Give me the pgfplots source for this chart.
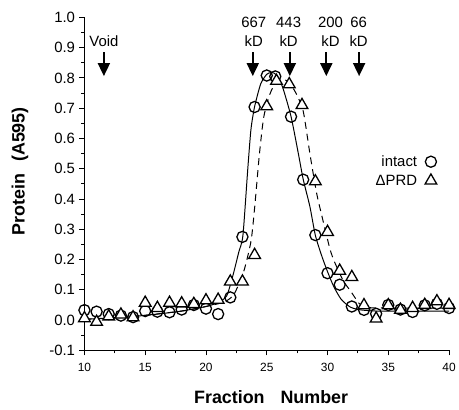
\documentclass[border=0pt]{standalone}
\usepackage{fontspec}
\setmainfont{Liberation Sans}
\usepackage{pgfplots}
\pgfplotsset{compat=1.18}
\usetikzlibrary{arrows.meta}

% measured points
\pgfplotstableread{
f y
10 0.033
11 0.028
12 0.02
13 0.015
14 0.01
15 0.03
16 0.028
17 0.026
18 0.035
19 0.05
20 0.038
21 0.02
22 0.075
23 0.275
24 0.704
25 0.808
25.7 0.805
27 0.672
28 0.464
29 0.281
30 0.155
31 0.117
32 0.045
33 0.034
34 0.021
35 0.05
36 0.035
37 0.027
38 0.049
39 0.054
40 0.04
}\intact

\pgfplotstableread{
f y
10 0.006
11 -0.006
12 0.012
13 0.018
14 0.009
15 0.057
16 0.04
17 0.057
18 0.055
19 0.053
20 0.065
21 0.067
22 0.127
23 0.127
24 0.215
25 0.706
25.8 0.79
26.85 0.779
27.9 0.71
29 0.458
30 0.291
31 0.163
32 0.142
33 0.049
34 0.005
35 0.049
36 0.034
37 0.04
38 0.05
39 0.062
40 0.05
}\prd

% fitted curves
\pgfplotstableread{
f y
10 0.003
12 0.006
14 0.012
16 0.02
18 0.03
20 0.045
21 0.058
21.7 0.08
22.2 0.145
22.7 0.225
23.04 0.28
23.44 0.5
23.7 0.63
24 0.705
24.5 0.78
25 0.812
25.4 0.818
25.8 0.81
26.3 0.77
27 0.672
27.6 0.55
28 0.465
28.55 0.375
29 0.28
29.5 0.215
30 0.16
30.5 0.112
31.1 0.07
31.8 0.045
32.5 0.035
34 0.03
37 0.03
40 0.03
}\intactfit

\pgfplotstableread{
f y
10 0.003
14 0.012
18 0.03
20 0.045
21.5 0.06
22.3 0.085
23.1 0.16
23.7 0.26
24 0.37
24.4 0.55
24.75 0.67
25.2 0.74
25.6 0.775
26.2 0.795
26.8 0.787
27.4 0.75
28 0.69
28.55 0.55
29.1 0.42
29.5 0.35
30.2 0.235
30.6 0.19
31.3 0.13
32 0.09
32.6 0.055
33.2 0.042
35 0.04
40 0.04
}\prdfit

\begin{document}
\begin{tikzpicture}
\begin{axis}[
  width=367pt, height=335.2pt, scale only axis,
  xmin=10, xmax=40, ymin=-0.1, ymax=1.0,
  axis lines*=left,
  clip=false,
  xtick={10,15,20,25,30,35,40},
  ytick={-0.1,0,0.1,0.2,0.3,0.4,0.5,0.6,0.7,0.8,0.9,1.0},
  minor x tick num=1, minor y tick num=1,
  tick align=outside,
  major tick length=5pt, minor tick length=3pt,
  tick style={black, line width=0.9pt},
  axis line style={line width=0.9pt},
  /pgf/number format/assume math mode=true,
  yticklabel style={/pgf/number format/fixed, /pgf/number format/fixed zerofill, /pgf/number format/precision=1},
  x tick label style={font=\fontsize{12}{12}\selectfont, yshift=-4pt},
  y tick label style={font=\fontsize{15}{15}\selectfont, xshift=-1pt},
  xlabel={Fraction\hspace{16pt}Number},
  ylabel={Protein\hspace{12pt}(A595)},
  label style={font=\fontsize{18}{18}\selectfont\bfseries},
  xlabel style={at={(axis description cs:0.512,-0.141)}, anchor=center},
  ylabel style={at={(axis description cs:-0.177,0.538)}, anchor=center},
  legend plot pos=right,
  legend style={draw=none, fill=none, font=\fontsize{15}{15}\selectfont,
    at={(axis description cs:0.975,0.5385)}, anchor=east, row sep=3pt, column sep=6pt},
  legend cell align=right,
]
\addplot[black, line width=1pt, smooth, tension=0.4, forget plot] table[x=f,y=y] {\intactfit};
\addplot[black, line width=1pt, dash pattern=on 7pt off 5pt, smooth, tension=0.4, forget plot] table[x=f,y=y] {\prdfit};
\addplot[only marks, mark=o, mark size=5.6pt, mark options={fill=white, line width=1.3pt}] table[x=f,y=y] {\intact};
\addlegendentry{intact}
\addplot[only marks, mark=triangle*, mark size=6.8pt, mark options={fill=white, draw=black, line width=1.3pt}] table[x=f,y=y] {\prd};
\addlegendentry{ΔPRD}

\node[font=\fontsize{15}{15}\selectfont] at (axis cs:11.6,0.923) {Void};
\node[font=\fontsize{15}{15}\selectfont] at (axis cs:23.93,0.983) {667};
\node[font=\fontsize{15}{15}\selectfont] at (axis cs:23.93,0.923) {kD};
\node[font=\fontsize{15}{15}\selectfont] at (axis cs:26.8,0.983) {443};
\node[font=\fontsize{15}{15}\selectfont] at (axis cs:26.8,0.923) {kD};
\node[font=\fontsize{15}{15}\selectfont] at (axis cs:30.25,0.983) {200};
\node[font=\fontsize{15}{15}\selectfont] at (axis cs:30.25,0.923) {kD};
\node[font=\fontsize{15}{15}\selectfont] at (axis cs:32.56,0.983) {66};
\node[font=\fontsize{15}{15}\selectfont] at (axis cs:32.56,0.923) {kD};
\draw[line width=1.8pt, -{Triangle[length=13pt,width=12pt]}] (axis cs:11.6,0.885) -- (axis cs:11.6,0.806);
\draw[line width=1.8pt, -{Triangle[length=13pt,width=12pt]}] (axis cs:23.85,0.885) -- (axis cs:23.85,0.806);
\draw[line width=1.8pt, -{Triangle[length=13pt,width=12pt]}] (axis cs:26.9,0.885) -- (axis cs:26.9,0.806);
\draw[line width=1.8pt, -{Triangle[length=13pt,width=12pt]}] (axis cs:29.9,0.885) -- (axis cs:29.9,0.806);
\draw[line width=1.8pt, -{Triangle[length=13pt,width=12pt]}] (axis cs:32.6,0.885) -- (axis cs:32.6,0.806);
\end{axis}
\path[use as bounding box] (-85pt,-59.3pt) rectangle (374pt,352.7pt);
\end{tikzpicture}
\end{document}
